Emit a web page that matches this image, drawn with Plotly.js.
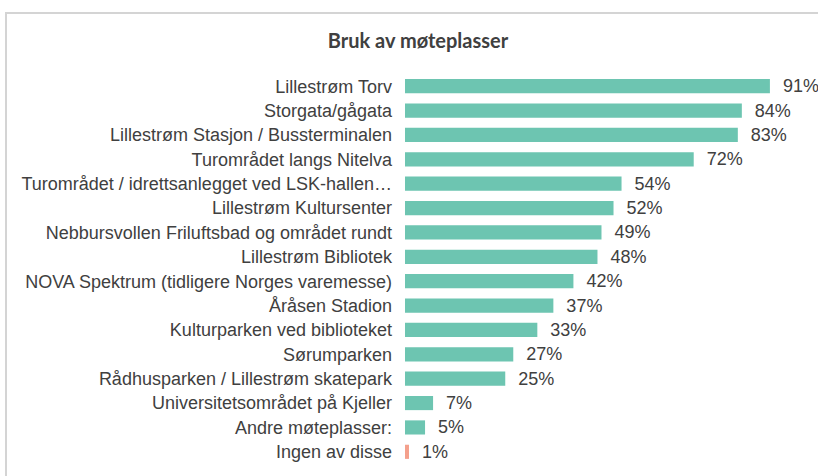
<!DOCTYPE html>
<html>
<head>
<meta charset="utf-8">
<script src="https://cdn.plot.ly/plotly-3.0.1.min.js"></script>
<style>
html,body{margin:0;padding:0;background:#fff;}
#chart{width:818px;height:476px;position:absolute;left:0;top:0;}
#frame{position:absolute;left:5px;top:12px;width:812px;height:470px;border-left:2px solid #d4d4d4;border-top:2px solid #d4d4d4;pointer-events:none;}
</style>
</head>
<body>
<div id="chart"></div>
<div id="frame"></div>
<script>
const categories = [
  "Lillestrøm Torv",
  "Storgata/gågata",
  "Lillestrøm Stasjon / Bussterminalen",
  "Turområdet langs Nitelva",
  "Turområdet / idrettsanlegget ved LSK-hallen…",
  "Lillestrøm Kultursenter",
  "Nebbursvollen Friluftsbad og området rundt",
  "Lillestrøm Bibliotek",
  "NOVA Spektrum (tidligere Norges varemesse)",
  "Åråsen Stadion",
  "Kulturparken ved biblioteket",
  "Sørumparken",
  "Rådhusparken / Lillestrøm skatepark",
  "Universitetsområdet på Kjeller",
  "Andre møteplasser:",
  "Ingen av disse"
];
const values = [91, 84, 83, 72, 54, 52, 49, 48, 42, 37, 33, 27, 25, 7, 5, 1];
const teal = "#6dc5b1";
const salmon = "#f4a08c";
const colors = categories.map((c, i) => i === categories.length - 1 ? salmon : teal);

const trace = {
  type: "bar",
  orientation: "h",
  y: categories,
  x: values,
  texttemplate: "\u00a0\u00a0%{x}%",
  textposition: "outside",
  constraintext: "none",
  cliponaxis: false,
  textfont: {family: "Liberation Sans, Arial, sans-serif", size: 18, color: "#404040"},
  marker: {color: colors},
  width: 0.58,
  hoverinfo: "none"
};

const layout = {
  width: 818, height: 476,
  margin: {l: 405, r: 12, t: 74, b: 12},
  paper_bgcolor: "#ffffff",
  plot_bgcolor: "#ffffff",
  showlegend: false,
  title: {
    text: "<b>Bruk av møteplasser</b>",
    font: {family: "Lato, DejaVu Sans, sans-serif", size: 20, color: "#404040"},
    x: 418 / 818, xref: "container", xanchor: "center",
    y: 1 - 41 / 476, yref: "container", yanchor: "middle"
  },
  xaxis: {range: [0, 100], visible: false, fixedrange: true},
  yaxis: {
    autorange: "reversed",
    showgrid: false, zeroline: false, showline: false,
    ticks: "",
    ticklabelstandoff: 12,
    tickfont: {family: "Liberation Sans, Arial, sans-serif", size: 18, color: "#404040"},
    fixedrange: true
  }
};

Plotly.newPlot("chart", [trace], layout, {displayModeBar: false, staticPlot: true});
</script>
</body>
</html>
